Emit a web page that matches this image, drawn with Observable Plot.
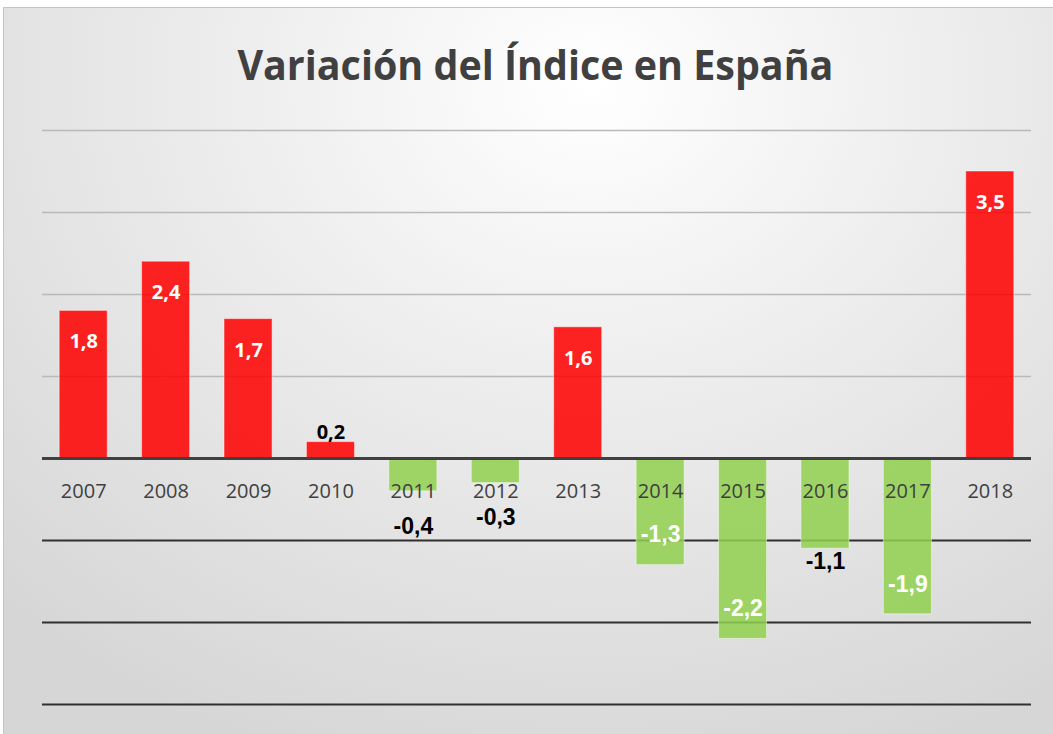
<!DOCTYPE html>
<html>
<head>
<meta charset="utf-8">
<script src="https://cdn.jsdelivr.net/npm/d3@7"></script>
<script src="https://cdn.jsdelivr.net/npm/@observablehq/plot@0.6"></script>
<style>
  html, body { margin: 0; padding: 0; background: #ffffff; overflow: hidden; }
  #page { position: relative; width: 1053px; height: 734px; overflow: hidden; }
  #frame {
    position: absolute; left: 3px; top: 7px; width: 1070px; height: 760px;
    border: 1.5px solid #c4c4c4; box-sizing: border-box;
    background: radial-gradient(ellipse 80% 95% at 55% 10%, #ffffff 0%, #eeeeee 40%, #e2e2e2 70%, #d6d6d6 100%);
  }
  #title {
    position: absolute; left: 0; top: 35px; width: 1070px; text-align: center;
    font-family: "Open Sans", sans-serif; font-weight: 700; font-size: 42px;
    line-height: 57px; color: #404040; white-space: nowrap;
  }
  #title span { display: inline-block; transform-origin: 50% 50%; }
  #chart { position: absolute; left: 0; top: 120px; }
</style>
</head>
<body>
<div id="page">
  <div id="frame"></div>
  <div id="title"><span>Variación del Índice en España</span></div>
  <div id="chart"></div>
</div>
<script>
const years = ["2007", "2008", "2009", "2010", "2011", "2012", "2013", "2014", "2015", "2016", "2017", "2018"];
const values = [1.8, 2.4, 1.7, 0.2, -0.4, -0.3, 1.6, -1.3, -2.2, -1.1, -1.9, 3.5];
const gridAbove = [1, 2, 3, 4];
const gridBelow = [-1, -2, -3];

const data = years.map((year, i) => ({year, value: values[i]}));
const fmt = v => d3.format(".1f")(v).replace(".", ",").replace("−", "-");
const INSIDE = 1.2;
const posIn = data.filter(d => d.value >= INSIDE);
const posOut = data.filter(d => d.value >= 0 && d.value < INSIDE);
const negIn = data.filter(d => d.value <= -INSIDE);
const negOutSmall = data.filter(d => d.value < 0 && d.value > -0.6);
const negOut = data.filter(d => d.value <= -0.6 && d.value > -INSIDE);

const chart = Plot.plot({
  width: 1053,
  height: 614,
  marginLeft: 42,
  marginRight: 22,
  marginTop: 10,
  marginBottom: 30,
  style: {background: "transparent", overflow: "visible"},
  x: {domain: years, paddingInner: 0.417, paddingOuter: 0.2085, round: false, axis: null},
  y: {domain: [-3, 4], axis: null},
  marks: [
    Plot.ruleY(gridAbove, {stroke: "#b9b9b9", strokeWidth: 1.5}),
    Plot.ruleY(gridBelow, {stroke: "#303030", strokeWidth: 2}),
    Plot.barY(data, {
      x: "year", y: "value",
      fill: d => d.value >= 0 ? "#ff0000" : "#92d050",
      fillOpacity: 0.86,
      stroke: "#ffffff", strokeOpacity: 0.45, strokeWidth: 1
    }),
    Plot.ruleY([0], {stroke: "#404040", strokeWidth: 3}),
    Plot.text(data, {
      x: "year", y: 0, dy: 33, text: "year",
      fill: "#404040", fontSize: 20, fontFamily: "Open Sans"
    }),
    Plot.text(posIn, {
      x: "year", y: "value", dy: 31, text: d => fmt(d.value),
      fill: "#ffffff", fontSize: 20, fontWeight: 700, fontFamily: "Open Sans"
    }),
    Plot.text(posOut, {
      x: "year", y: "value", dy: -10, text: d => fmt(d.value),
      fill: "#000000", fontSize: 20, fontWeight: 700, fontFamily: "Open Sans"
    }),
    Plot.text(negIn, {
      x: "year", y: "value", dy: -30, text: d => fmt(d.value),
      fill: "#ffffff", fontSize: 23, fontWeight: 700, fontFamily: "Liberation Sans"
    }),
    Plot.text(negOutSmall, {
      x: "year", y: "value", dy: 35, text: d => fmt(d.value),
      fill: "#000000", fontSize: 23, fontWeight: 700, fontFamily: "Liberation Sans"
    }),
    Plot.text(negOut, {
      x: "year", y: "value", dy: 13, text: d => fmt(d.value),
      fill: "#000000", fontSize: 23, fontWeight: 700, fontFamily: "Liberation Sans"
    })
  ]
});
document.getElementById("chart").appendChild(chart);

function fitTitle() {
  const span = document.querySelector("#title span");
  span.style.transform = "none";
  const w = span.getBoundingClientRect().width;
  const target = 596;
  span.style.transform = `scaleX(${target / w})`;
}
if (document.fonts && document.fonts.ready) document.fonts.ready.then(fitTitle);
fitTitle();
</script>
</body>
</html>
